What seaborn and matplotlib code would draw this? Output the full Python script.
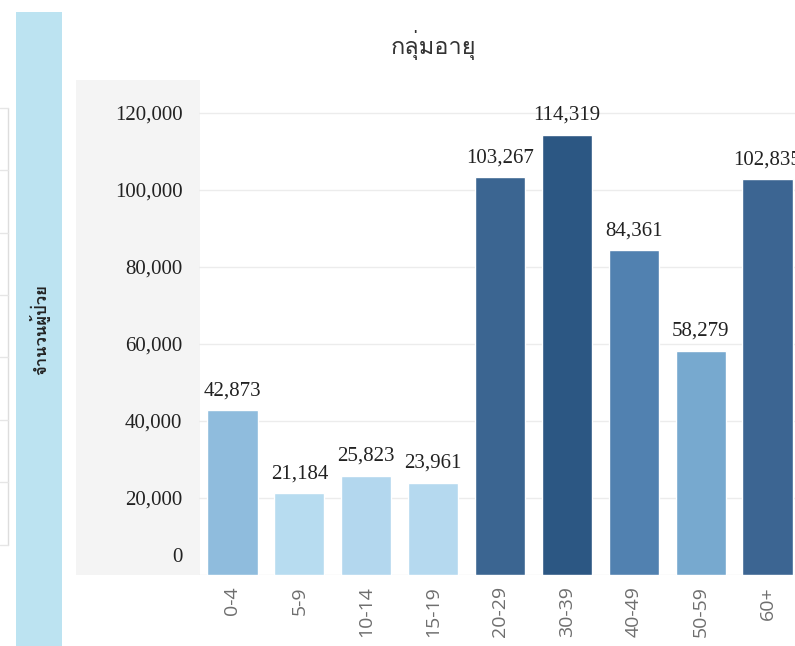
import matplotlib
matplotlib.use("Agg")
import matplotlib.pyplot as plt
from matplotlib import font_manager
from matplotlib.ft2font import FT2Font
from matplotlib.patches import Rectangle
from matplotlib.lines import Line2D
from matplotlib.transforms import ScaledTranslation
import seaborn as sns
import pandas as pd

# ---- data ----
categories = ["0-4", "5-9", "10-14", "15-19", "20-29", "30-39", "40-49", "50-59", "60+"]
patients = [42873, 21184, 25823, 23961, 103267, 114319, 84361, 58279, 102835]
yticks = [0, 20000, 40000, 60000, 80000, 100000, 120000]
title = "กลุ่มอายุ"
ylabel = "จำนวนผู้ป่วย"

bar_colors = ["#8fbcdd", "#b7dcf0", "#b3d7ee", "#b5d9ef", "#3b6591",
              "#2c5783", "#5181b0", "#77a9cf", "#3c6592"]

# ---- find a font that has Thai glyphs ----
def thai_font():
    for f in font_manager.fontManager.ttflist:
        try:
            ft = FT2Font(f.fname)
            if ft.get_char_index(ord("ก")) and ft.get_char_index(ord("ุ")):
                return f.name
        except Exception:
            continue
    return None

sns.set_theme(style="white")
tf = thai_font()
thai_family = [tf, "DejaVu Sans"] if tf else ["DejaVu Sans"]
plt.rcParams["font.family"] = ["DejaVu Sans"]

W, H = 795, 646
fig = plt.figure(figsize=(W / 100, H / 100), dpi=100)

def fx(x):
    return x / W

def fy(y):
    return 1 - y / H

# blue side band
fig.add_artist(Rectangle((fx(16), 0), fx(62) - fx(16), fy(12), transform=fig.transFigure,
                         facecolor="#bce3f1", edgecolor="none", zorder=0))
# gray label panel
fig.add_artist(Rectangle((fx(76), fy(575)), fx(200) - fx(76), fy(80) - fy(575),
                         transform=fig.transFigure, facecolor="#f4f4f4", edgecolor="none", zorder=0))
# faint fragment of neighbouring panel at far left
fig.add_artist(Line2D([fx(8), fx(8)], [fy(108), fy(545)], transform=fig.transFigure,
                      color="#dddddd", lw=1))
for yy in [108, 170, 233, 295, 357, 420, 482, 545]:
    fig.add_artist(Line2D([0, fx(8)], [fy(yy), fy(yy)], transform=fig.transFigure,
                          color="#e6e6e6", lw=1))

ax = fig.add_axes([fx(199), fy(575), fx(801) - fx(199), fy(80) - fy(575)])
ax.set_facecolor("none")

df = pd.DataFrame({"group": categories, "value": patients})
sns.barplot(data=df, x="group", y="value", hue="group", palette=bar_colors,
            width=0.75, legend=False, ax=ax, saturation=1, zorder=3)

ax.set_ylim(0, 128500)
ax.set_xlim(-0.5, len(categories) - 0.5)
ax.set_yticks(yticks)
ax.set_yticklabels([f"{v:,}" for v in yticks], family="Liberation Serif",
                   fontsize=15, color="#222222")
ax.yaxis.grid(True, color="#ececec", lw=1, zorder=0)
ax.xaxis.grid(False)
for s in ax.spines.values():
    s.set_visible(False)
ax.tick_params(axis="y", length=0, pad=12)
ax.tick_params(axis="x", length=0, pad=8)
ax.set_xticks(range(len(categories)))
ax.set_xticklabels(categories, rotation=90, family="Open Sans", fontsize=14,
                   color="#6e6e6e", va="top", ha="center")
# category separator ticks
ax.set_xticks([i + 0.5 for i in range(-1, len(categories))], minor=True)
ax.tick_params(axis="x", which="minor", length=6, color="#d6d6d6", width=1)
ax.set_xlabel("")
ax.set_ylabel("")

# shift the 0 label upwards like the reference
lab0 = ax.get_yticklabels()[0]
lab0.set_transform(lab0.get_transform() + ScaledTranslation(0, 20 / 100, fig.dpi_scale_trans))

# value labels
for i, v in enumerate(patients):
    ax.annotate(f"{v:,}", (i, v), xytext=(0, 7), textcoords="offset points",
                ha="center", va="bottom", family="Liberation Serif", fontsize=15,
                color="#222222", zorder=5, annotation_clip=False)

fig.text(fx(434), fy(45), title, ha="center", va="center", family=thai_family,
         fontsize=17, color="#333333")
fig.text(fx(40), fy(330), ylabel, ha="center", va="center", rotation=90,
         family=thai_family, fontsize=12, color="#222222", fontweight="semibold")

fig.savefig("out.png", dpi=100)
